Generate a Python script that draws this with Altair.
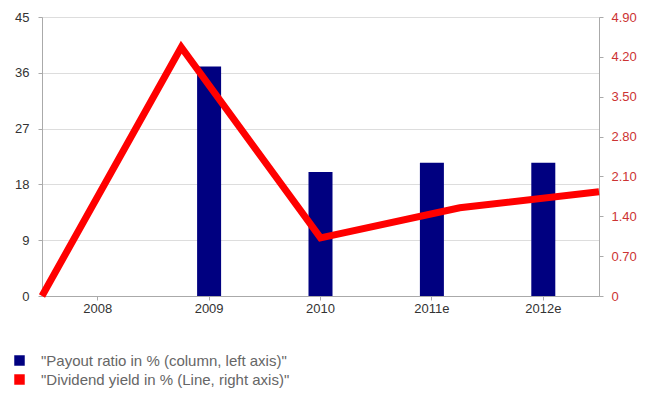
import altair as alt
import pandas as pd

categories = ["2008", "2009", "2010", "2011e", "2012e"]
payout = [None, 37.0, 20.0, 21.5, 21.5]
dividend_yield = [0.0, 4.37, 1.02, 1.55, 1.83]
left_ticks = [0, 9, 18, 27, 36, 45]
right_ticks = [0, 0.7, 1.4, 2.1, 2.8, 3.5, 4.2, 4.9]
bar_name = '"Payout ratio in % (column, left axis)"'
line_name = '"Dividend yield in % (Line, right axis)"'

bars_df = pd.DataFrame({"year": categories, "value": payout, "series": bar_name}).dropna()
line_df = pd.DataFrame({"year": categories, "value": dividend_yield, "series": line_name})

FONT = "Liberation Sans"

color = alt.Color(
    "series:N",
    scale=alt.Scale(domain=[bar_name, line_name], range=["#000080", "#ff0000"]),
    legend=alt.Legend(
        title=None, orient="none", legendX=-30, legendY=336, direction="vertical",
        symbolType="square", symbolSize=110, symbolStrokeWidth=0,
        labelFont=FONT, labelFontSize=15, labelColor="#666666", labelLimit=0,
        labelOffset=14, rowPadding=3,
    ),
)

bars = alt.Chart(bars_df).mark_bar(size=24).encode(
    x=alt.X("year:N", sort=categories, scale=alt.Scale(domain=categories, paddingInner=0, paddingOuter=0),
            axis=alt.Axis(title=None, labelAngle=0, labelFont=FONT, labelFontSize=13, labelColor="#333333",
                          domainColor="#aaaaaa", tickColor="#aaaaaa", tickSize=4, labelPadding=2,
                          grid=False)),
    y=alt.Y("value:Q", scale=alt.Scale(domain=[0, 45], nice=False),
            axis=alt.Axis(title=None, values=left_ticks, labelFont=FONT, labelFontSize=13,
                          labelColor="#333333", domainColor="#aaaaaa", tickColor="#aaaaaa",
                          tickSize=4, labelPadding=9, gridColor="#dddddd", grid=True)),
    color=color,
)

line = alt.Chart(line_df).mark_line(strokeWidth=7, strokeJoin="miter", strokeCap="butt").encode(
    x=alt.X("year:O", sort=categories, scale=alt.Scale(type="point", domain=categories, padding=0), axis=None),
    y=alt.Y("value:Q", scale=alt.Scale(domain=[0, 4.9], nice=False),
            axis=alt.Axis(title=None, orient="right", values=right_ticks,
                          labelExpr="datum.value == 0 ? '0' : format(datum.value, '.2f')",
                          labelFont=FONT, labelFontSize=13, labelColor="#cc3333",
                          domainColor="#aaaaaa", tickColor="#aaaaaa", tickSize=4,
                          labelPadding=8, grid=False)),
    color=color,
)

chart = alt.layer(bars, line).resolve_scale(x="independent", y="independent").properties(
    width=557, height=279,
    autosize=alt.AutoSizeParams(type="none"),
    padding={"left": 42, "top": 17, "right": 53, "bottom": 98},
).configure_view(stroke=None).configure(background="white")

chart.save("out.html", embed_options={"renderer": "svg", "actions": False})
